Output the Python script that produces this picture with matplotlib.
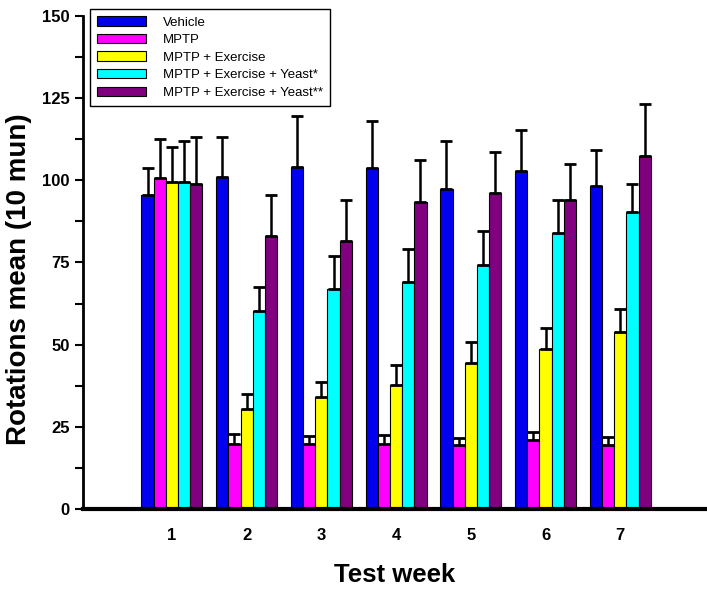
import matplotlib.pyplot as plt
import numpy as np

# data
weeks = [1, 2, 3, 4, 5, 6, 7]
groups = ['Vehicle', 'MPTP', 'MPTP + Exercise',
          'MPTP + Exercise + Yeast*', 'MPTP + Exercise + Yeast**']
colors = ['#0000EE', '#FF00FF', '#FFFF00', '#00FFFF', '#800080']

vehicle = [95.4, 101.1, 104.0, 103.6, 97.5, 102.7, 98.3]
mptp = [100.7, 19.7, 19.7, 19.7, 19.4, 21.1, 19.4]
mptp_ex = [99.4, 30.4, 34.1, 37.8, 44.5, 48.6, 53.8]
mptp_ex_y1 = [99.4, 60.1, 67.0, 69.0, 74.3, 83.9, 90.5]
mptp_ex_y2 = [99.0, 83.2, 81.6, 93.4, 96.2, 94.1, 107.5]

vehicle_err = [8.4, 12.1, 15.6, 14.3, 14.4, 12.5, 11.0]
mptp_err = [12.0, 3.0, 2.5, 2.8, 2.2, 2.4, 2.4]
mptp_ex_err = [10.7, 4.6, 4.6, 6.0, 6.3, 6.6, 7.1]
mptp_ex_y1_err = [12.5, 7.5, 10.1, 10.0, 10.4, 10.2, 8.4]
mptp_ex_y2_err = [14.2, 12.4, 12.5, 12.8, 12.4, 10.9, 15.8]

means = [vehicle, mptp, mptp_ex, mptp_ex_y1, mptp_ex_y2]
errs = [vehicle_err, mptp_err, mptp_ex_err, mptp_ex_y1_err, mptp_ex_y2_err]

plt.rcParams['font.family'] = ['Liberation Sans', 'DejaVu Sans']

fig = plt.figure(figsize=(7.07, 5.91), dpi=100)
ax = fig.add_axes([0.1174, 0.1387, 0.8826, 0.8343])

x = np.array(weeks, dtype=float)
w = 0.163
for k in range(5):
    pos = x + (k - 2) * w
    ax.bar(pos, means[k], width=w, color=colors[k], edgecolor='black',
           linewidth=0.8, label=groups[k], zorder=2)
    ax.errorbar(pos, means[k], yerr=[np.zeros(7), errs[k]], fmt='none',
                ecolor='black', elinewidth=1.8, capsize=4.5, capthick=2,
                zorder=3)

ax.set_xlim(-0.19, 8.16)
ax.set_ylim(0, 150)
ax.set_yticks([0, 25, 50, 75, 100, 125, 150])
ax.set_yticks(np.arange(12.5, 150, 25), minor=True)
ax.set_xticks(weeks)
ax.tick_params(axis='y', which='both', direction='out', length=6, width=1.5,
               labelsize=12)
ax.tick_params(axis='x', length=0, labelsize=12, pad=14)
for lab in ax.get_xticklabels() + ax.get_yticklabels():
    lab.set_fontweight('bold')

ax.spines['top'].set_visible(False)
ax.spines['right'].set_visible(False)
ax.spines['left'].set_linewidth(2)
ax.spines['bottom'].set_linewidth(3)

ax.set_xlabel('Test week', fontsize=18.5, fontweight='bold', labelpad=14)
ax.set_ylabel('Rotations mean (10 mun)', fontsize=20, fontweight='bold')
ax.yaxis.set_label_coords(-0.082, 0.467)

leg = ax.legend(loc='upper left', bbox_to_anchor=(90 / 707, 1 - 9 / 591),
                bbox_transform=fig.transFigure, borderaxespad=0,
                fontsize=9.5, frameon=True,
                fancybox=False, edgecolor='black', framealpha=1,
                handlelength=3.7, handleheight=0.72, labelspacing=0.4,
                borderpad=0.55, handletextpad=1.3)
leg.get_frame().set_linewidth(1)

plt.savefig('out.png', dpi=100)
